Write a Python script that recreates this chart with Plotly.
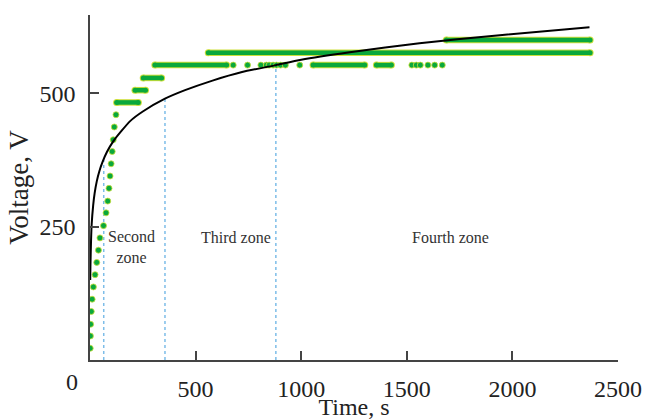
import plotly.graph_objects as go

# ---- data ----
# fitted model curve (time s, voltage V)
curve_t = [1, 2, 5, 8, 15, 22, 32, 45, 60, 80, 110, 150, 190, 250, 355, 450, 580, 720, 880,
           1000, 1230, 1560, 1940, 2365]
curve_v = [150, 175, 225, 255, 290, 313, 335, 355, 372, 390, 410, 430, 448, 466, 490, 506, 524,
           540, 553, 563, 577, 594, 609, 624]

# isolated measured points
pt_t = [1, 2, 3, 6, 10, 16, 24, 32, 40, 47, 64, 76, 84, 90, 95, 100, 105, 110, 115, 123,
        678, 746, 809, 835, 848, 867, 883, 902, 925, 993,
        1524, 1545, 1564, 1600, 1632, 1668]
pt_v = [22, 45, 67, 91, 114, 137, 160, 183, 206, 229, 252, 276, 298, 322, 345, 368, 391, 413, 437, 460,
        553, 553, 553, 553, 553, 553, 553, 553, 553, 553,
        553, 553, 553, 553, 553, 553]

# dense runs of measured points (level, start, end)
run_v = [483, 506, 529, 553, 553, 553, 576, 600]
run_t0 = [126, 213, 252, 307, 1056, 1356, 560, 1687]
run_t1 = [229, 263, 339, 647, 1301, 1427, 2368, 2368]

# zone boundaries (time) and where they meet the curve
zone_t = [65, 355, 880]
zone_top = [376, 490, 553]

zone_labels = ["Second<br>zone", "Third zone", "Fourth zone"]
zone_label_t = [195, 690, 1705]
zone_label_v = [212, 229, 229]

x_ticks = [500, 1000, 1500, 2000, 2500]
y_ticks = [250, 500]

FONT = "Liberation Serif, Times New Roman, serif"
GREEN = "#0aa83c"
EDGE = "#cddf3a"
AXIS = "#444444"

fig = go.Figure()

# zone boundaries
for t, v in zip(zone_t, zone_top):
    fig.add_trace(go.Scatter(x=[t, t], y=[0, v], mode="lines",
                             line=dict(color="#7dbde8", width=1.5, dash="dot"),
                             hoverinfo="skip"))

# dense runs
bx, by = [], []
for v, a, b in zip(run_v, run_t0, run_t1):
    bx += [a, b, None]
    by += [v, v, None]
fig.add_trace(go.Scatter(x=bx, y=by, mode="lines+markers",
                         line=dict(color=EDGE, width=6.5),
                         marker=dict(size=7, color=EDGE)))
fig.add_trace(go.Scatter(x=bx, y=by, mode="lines+markers",
                         line=dict(color=GREEN, width=4.5),
                         marker=dict(size=5, color=GREEN)))

# isolated points
fig.add_trace(go.Scatter(x=pt_t, y=pt_v, mode="markers",
                         marker=dict(size=6, color=GREEN, line=dict(color=EDGE, width=0.8))))

# curve
fig.add_trace(go.Scatter(x=curve_t, y=curve_v, mode="lines",
                         line=dict(color="black", width=2, shape="spline", smoothing=0.6)))

for txt, t, v in zip(zone_labels, zone_label_t, zone_label_v):
    fig.add_annotation(x=t, y=v, text=txt, showarrow=False,
                       font=dict(family=FONT, size=16, color="#333333"))

# origin label
fig.add_annotation(x=0, y=0, xref="x", yref="y", text="0", showarrow=False,
                   xshift=-18, yshift=-22,
                   font=dict(family=FONT, size=24, color="#222222"))

fig.update_layout(
    width=646, height=420,
    margin=dict(l=90, r=28, t=15, b=60),
    paper_bgcolor="white", plot_bgcolor="white",
    showlegend=False,
    font=dict(family=FONT, size=24, color="#222222"),
    xaxis=dict(range=[0, 2500], tickvals=x_ticks, ticks="inside", ticklen=9,
               tickcolor=AXIS, tickwidth=1.5, showline=True, linecolor=AXIS, linewidth=1.5,
               showgrid=False, zeroline=False, ticklabelstandoff=6, automargin=False,
               title=dict(text="Time, s", standoff=0, font=dict(size=24))),
    yaxis=dict(range=[0, 647], tickvals=y_ticks, ticks="inside", ticklen=9,
               tickcolor=AXIS, tickwidth=1.5, showline=True, linecolor=AXIS, linewidth=1.5,
               showgrid=False, zeroline=False, ticklabelstandoff=8, automargin=False,
               title=dict(text="Voltage, V", standoff=3, font=dict(size=27))),
)

fig.write_html("out.html")
